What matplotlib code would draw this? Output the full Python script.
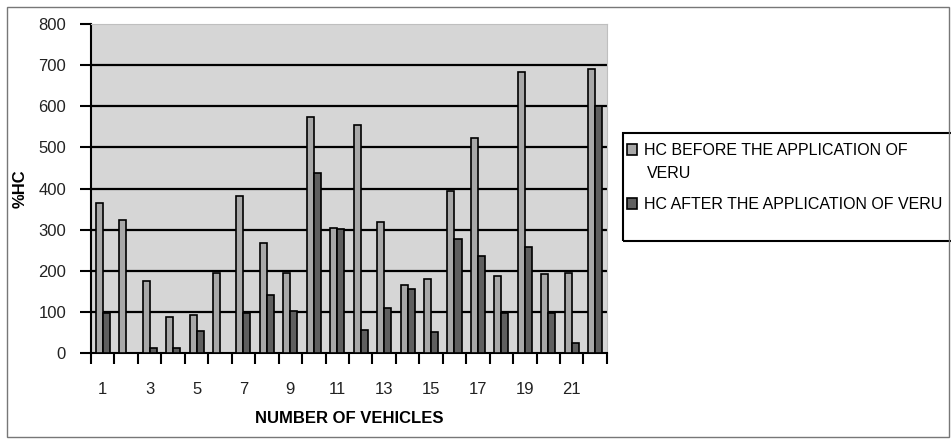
import matplotlib.pyplot as plt
import numpy as np
from matplotlib.patches import Rectangle

plt.rcParams['font.family'] = ['Liberation Sans', 'DejaVu Sans']

# Дані: вміст HC до і після застосування VERU
vehicles = list(range(1, 23))
hc_before = [366, 324, 174, 87, 93, 195, 382, 267, 195, 575, 305,
             555, 319, 166, 180, 395, 524, 186, 684, 192, 195, 692]
hc_after = [97, 0, 12, 12, 53, 0, 97, 142, 103, 437, 302,
            55, 109, 156, 50, 277, 237, 97, 258, 97, 23, 600]
tick_labels = [str(v) for v in vehicles if v % 2 == 1]

fig = plt.figure(figsize=(9.51, 4.4), dpi=100)
ax = fig.add_axes([0.0957, 0.198, 0.5425, 0.747])

x = np.array(vehicles)
w = 0.3
ax.bar(x - w / 2, hc_before, width=w, color='#a8a8a8', edgecolor='black',
       linewidth=1.2, label='HC BEFORE THE APPLICATION OF', zorder=3)
ax.bar(x + w / 2, hc_after, width=w, color='#5f5f5f', edgecolor='black',
       linewidth=1.2, label='HC AFTER THE APPLICATION OF VERU', zorder=3)

ax.set_facecolor('#d6d6d6')
ax.set_xlim(0.5, 22.5)
ax.set_ylim(0, 800)
ax.set_yticks(range(0, 801, 100))
for yv in range(100, 800, 100):
    ax.axhline(yv, color='black', linewidth=1.6, zorder=1)

# Позначки між категоріями, підписи лише для непарних
ax.set_xticks(np.arange(0.5, 23, 1))
ax.set_xticklabels([])
ax.set_xticks([v for v in vehicles if v % 2 == 1], minor=True)
ax.set_xticklabels(tick_labels, minor=True, fontsize=12, color='#222222')
ax.tick_params(axis='x', which='major', length=8, width=1.5, direction='out')
ax.tick_params(axis='x', which='minor', length=0, pad=21)
ax.tick_params(axis='y', length=8, width=1.5, labelsize=12, pad=10,
               labelcolor='#222222')

for side in ['top', 'right']:
    ax.spines[side].set_color('#bfbfbf')
    ax.spines[side].set_linewidth(0.8)
for side in ['left', 'bottom']:
    ax.spines[side].set_color('black')
    ax.spines[side].set_linewidth(1.5)

ax.set_ylabel('%HC', fontsize=12, fontweight='bold')
ax.yaxis.set_label_coords(-0.122, 0.5)
ax.set_xlabel('NUMBER OF VEHICLES', fontsize=12, fontweight='bold')
ax.xaxis.set_label_coords(0.5, -0.176)

# Легенда: рамка окремо, бо в оригіналі вона обрізана справа
leg = fig.legend(loc='upper left', bbox_to_anchor=(0.659, 0.675), fontsize=11.5,
                 frameon=False, handlelength=0.65, handleheight=0.65,
                 handletextpad=0.45, borderpad=0, borderaxespad=0,
                 labelspacing=2.45)
# перенесений рядок першого підпису, як в оригіналі
fig.text(647 / 951, (440 - 173) / 440, 'VERU', fontsize=11.5, va='center', ha='left')
fig.patches.append(Rectangle((623 / 951, (440 - 241) / 440), 0.4, 108 / 440,
                             transform=fig.transFigure, fill=False,
                             edgecolor='black', linewidth=1.5))

fig.patches.append(Rectangle((0.007, 0.006), 0.991, 0.978, transform=fig.transFigure,
                             fill=False, edgecolor='#777777', linewidth=1))

plt.savefig('out.png', dpi=100)
